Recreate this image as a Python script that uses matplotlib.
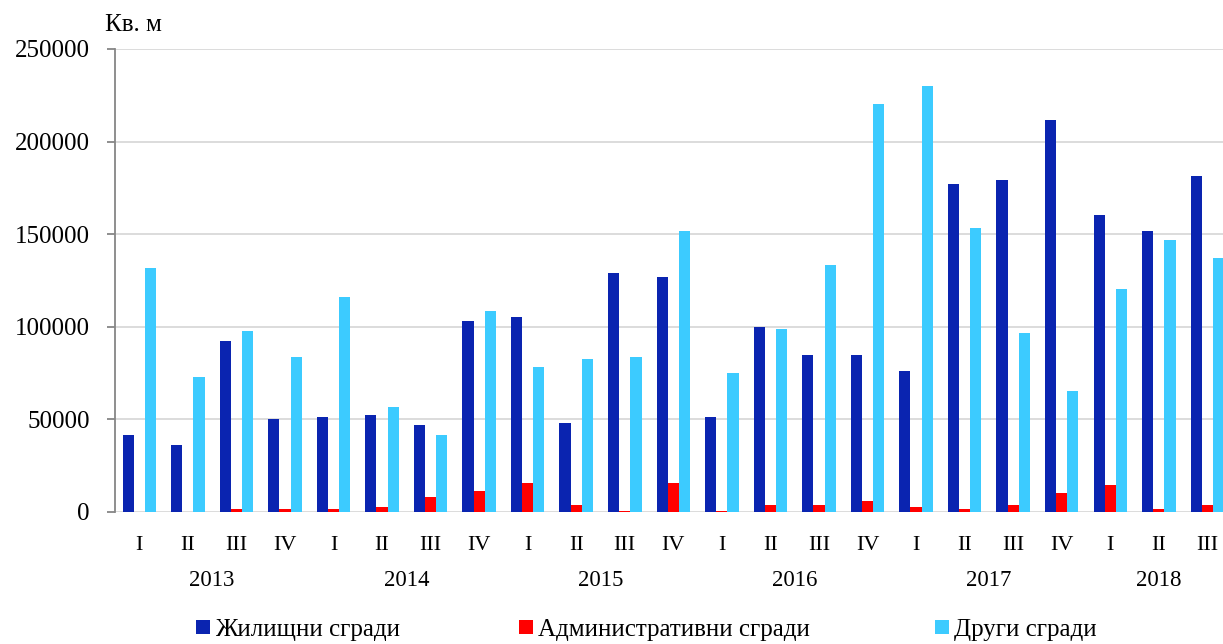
import numpy as np
import matplotlib.pyplot as plt
from matplotlib.transforms import blended_transform_factory

plt.rcParams['font.family'] = ['Liberation Serif', 'DejaVu Serif']

quarters = ['I', 'II', 'III', 'IV'] * 5 + ['I', 'II', 'III']
years = ['2013', '2014', '2015', '2016', '2017', '2018']
year_counts = [4, 4, 4, 4, 4, 3]

residential = [41600, 36200, 92200, 50200,
               51300, 52400, 47000, 103000,
               105400, 48100, 129000, 126800,
               51300, 99800, 84800, 84800,
               76200, 177200, 179400, 211800,
               160100, 151500, 181500]
administrative = [0, 0, 1600, 1600,
                  1600, 2700, 8100, 11300,
                  15700, 4000, 500, 15700,
                  500, 4000, 4000, 5900,
                  2700, 1600, 4000, 10300,
                  14600, 1600, 4000]
other = [132000, 72800, 97600, 83600,
         116000, 56700, 41600, 108400,
         78200, 82500, 83600, 151500,
         75100, 98700, 133100, 220400,
         230000, 153500, 96500, 65200,
         120300, 147100, 137400]

series_names = ['Жилищни сгради', 'Административни сгради', 'Други сгради']
colors = ['#0A24B0', '#FF0000', '#3CCBFF']

W, H = 1223, 644
fig = plt.figure(figsize=(W / 100, H / 100), dpi=100)
ax = fig.add_axes([115 / W, (H - 512) / H, (W - 115) / W, (512 - 49) / H])

x = np.arange(len(quarters))
bw = 0.23
bars = []
for i, (vals, c) in enumerate(zip([residential, administrative, other], colors)):
    b = ax.bar(x + (i - 1) * bw, vals, width=bw, color=c, linewidth=0, zorder=3)
    bars.append(b)

ax.set_ylim(0, 250000)
ax.set_yticks(np.arange(0, 250001, 50000))
ax.set_xlim(-0.5, -0.5 + (W - 115) / 48.55)

ax.grid(axis='y', color='#D9D9D9', linewidth=1.3, zorder=0)
for s in ['top', 'right', 'bottom']:
    ax.spines[s].set_visible(False)
ax.spines['left'].set_color('#868686')
ax.spines['left'].set_linewidth(1.3)
ax.tick_params(axis='y', direction='out', length=6, width=1.3, color='#868686',
               labelsize=18, pad=12)
ax.set_xticks(x)
ax.set_xticklabels(quarters)
ax.tick_params(axis='x', length=0, labelsize=16, pad=17)

# year labels under each group of quarters
tr = blended_transform_factory(ax.transData, ax.transAxes)
start = 0
for yr, n in zip(years, year_counts):
    ax.text(start + (n - 1) / 2, -0.148, yr, transform=tr, ha='center', va='center', fontsize=16.5)
    start += n

fig.text(105 / W, 1 - 25 / H, 'Кв. м', ha='left', va='center', fontsize=18)

# legend entries placed like the original (equal slots)
leg_x = [196, 519, 935]
for b, name, lx in zip(bars, series_names, leg_x):
    lg = fig.legend([b], [name], loc='center left', bbox_to_anchor=(lx / W, 1 - 630 / H),
                    frameon=False, fontsize=18, handlelength=0.55, handleheight=0.45,
                    handletextpad=0.2, borderpad=0, borderaxespad=0)

fig.savefig('out.png', dpi=100)
